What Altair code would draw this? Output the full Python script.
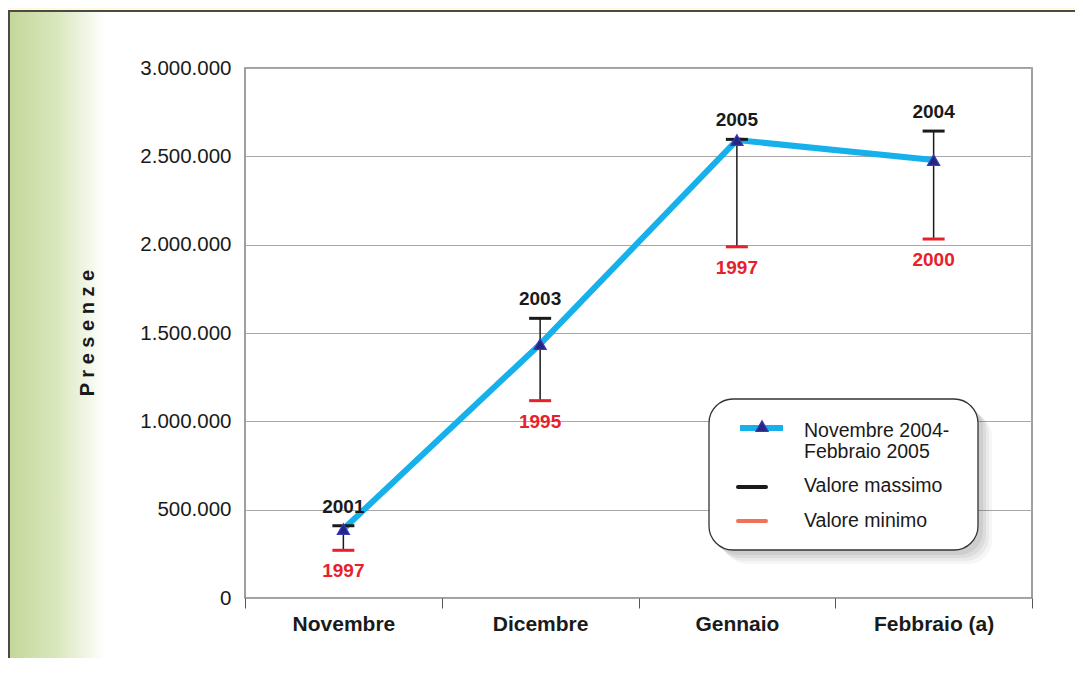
import altair as alt
import pandas as pd

# ---- data ----
mesi = ["Novembre", "Dicembre", "Gennaio", "Febbraio (a)"]
presenze = [390000, 1437000, 2592000, 2479000]
massimo = [409000, 1583000, 2596000, 2643000]
minimo = [270000, 1117000, 1988000, 2032000]
anno_max = ["2001", "2003", "2005", "2004"]
anno_min = ["1997", "1995", "1997", "2000"]
y_ticks = [0, 500000, 1000000, 1500000, 2000000, 2500000, 3000000]

df = pd.DataFrame({
    "mese": mesi,
    "presenze": presenze,
    "massimo": massimo,
    "minimo": minimo,
    "anno_max": anno_max,
    "anno_min": anno_min,
})
one = pd.DataFrame({"k": [0]})

FONT = "Liberation Sans, Arial, Helvetica, sans-serif"
W, H = 787, 530
PL, PT, PR, PB = 237, 60, 43, 60
CYAN = "#16B1EA"
NAVY = "#262680"
RED = "#E8202A"

xsc = alt.Scale(type="band", paddingInner=0, paddingOuter=0, domain=mesi)
ysc = alt.Scale(domain=[0, 3000000], nice=False, zero=True)

x_axis = alt.Axis(
    title=None, labelAngle=0, labelFont=FONT, labelFontSize=21,
    labelFontWeight="bold", labelColor="#1a1a1a", tickBand="extent",
    tickSize=10, tickColor="#555555", tickWidth=1, domain=False,
    labelPadding=16, labelBaseline="middle", grid=False,
)
y_axis = alt.Axis(
    title=None, values=y_ticks, labelFont=FONT, labelFontSize=20.5,
    labelColor="#1a1a1a", ticks=False, domain=False, labelPadding=14,
    gridColor="#a8a8a8", gridWidth=1,
    labelExpr="replace(replace(format(datum.value, ','), ',', '.'), ',', '.')",
)

X = alt.X("mese:N", scale=xsc, sort=mesi, axis=x_axis)


def Y(field):
    return alt.Y(field, scale=ysc, axis=y_axis)


base = alt.Chart(df)

# ---- decorations (page frame) ----
gradient = alt.Chart(one).mark_rect(
    color=alt.LinearGradient(
        gradient="linear", x1=0, x2=1, y1=0, y2=0,
        stops=[alt.GradientStop(color="#C3D799", offset=0),
               alt.GradientStop(color="#D9E7BD", offset=0.5),
               alt.GradientStop(color="#FFFFFF", offset=1)])
).encode(x=alt.value(-236), x2=alt.value(-140), y=alt.value(-57), y2=alt.value(H + PB))
frame_left = alt.Chart(one).mark_rule(color="#4a4a4a", strokeWidth=2).encode(
    x=alt.value(-236), y=alt.value(-58), y2=alt.value(H + PB))
frame_top = alt.Chart(one).mark_rule(color="#4a4a4a", strokeWidth=2).encode(
    x=alt.value(-237), x2=alt.value(W + PR), y=alt.value(-57))
top_strip = alt.Chart(one).mark_rect(color="#FFFBD8").encode(
    x=alt.value(-237), x2=alt.value(W + PR), y=alt.value(-60), y2=alt.value(-58))
ytitle = alt.Chart(one).mark_text(
    text="P r e s e n z e", font=FONT, fontSize=20, fontWeight="bold",
    color="#1a1a1a", angle=270, align="center", baseline="middle"
).encode(x=alt.value(-157), y=alt.value(265))

# ---- data layers ----
line = base.mark_line(color=CYAN, strokeWidth=6).encode(x=X, y=Y("presenze:Q"))
err = base.mark_rule(color="#1a1a1a", strokeWidth=1.5).encode(
    x=X, y=Y("minimo:Q"), y2="massimo:Q")
cap_max = base.mark_tick(color="#1a1a1a", size=22, thickness=3, opacity=1).encode(
    x=X, y=Y("massimo:Q"))
cap_min = base.mark_tick(color=RED, size=22, thickness=3, opacity=1).encode(
    x=X, y=Y("minimo:Q"))
pts = base.mark_point(shape="triangle-up", size=150, filled=True, fill=NAVY,
                      stroke="#3a3ab8", strokeWidth=1.2, opacity=1).encode(
    x=X, y=Y("presenze:Q"))
lab_max = base.mark_text(font=FONT, fontSize=19, fontWeight="bold", color="#1a1a1a",
                         dy=-19, baseline="middle").encode(
    x=X, y=Y("massimo:Q"), text="anno_max:N")
lab_min = base.mark_text(font=FONT, fontSize=19, fontWeight="bold", color=RED,
                         dy=21, baseline="middle").encode(
    x=X, y=Y("minimo:Q"), text="anno_min:N")

# ---- legend (drawn box) ----
LX0, LX1, LY0, LY1 = 464, 733, 331, 482
shadows = [
    alt.Chart(one).mark_rect(color="#555555", opacity=op, cornerRadius=24).encode(
        x=alt.value(LX0 + d), x2=alt.value(LX1 + d), y=alt.value(LY0 + d), y2=alt.value(LY1 + d))
    for d, op in [(14, 0.05), (11, 0.07), (8, 0.09), (5, 0.10)]
]
lbox = alt.Chart(one).mark_rect(fill="white", stroke="#333333", strokeWidth=1.3,
                                cornerRadius=24).encode(
    x=alt.value(LX0), x2=alt.value(LX1), y=alt.value(LY0), y2=alt.value(LY1))
leg_line = alt.Chart(one).mark_rule(color=CYAN, strokeWidth=6).encode(
    x=alt.value(495), x2=alt.value(538), y=alt.value(360))
leg_tri = alt.Chart(one).mark_point(shape="triangle-up", size=150, filled=True, fill=NAVY,
                                    stroke="#3a3ab8", strokeWidth=1.2, opacity=1).encode(
    x=alt.value(517), y=alt.value(358))
leg_max = alt.Chart(one).mark_rule(color="#1a1a1a", strokeWidth=4, strokeCap="round").encode(
    x=alt.value(493), x2=alt.value(521), y=alt.value(419))
leg_min = alt.Chart(one).mark_rule(color="#F07256", strokeWidth=4, strokeCap="round").encode(
    x=alt.value(493), x2=alt.value(521), y=alt.value(453))


def ltxt(t, yy):
    return alt.Chart(one).mark_text(text=t, font=FONT, fontSize=19.5, color="#1a1a1a",
                                    align="left", baseline="middle").encode(
        x=alt.value(559), y=alt.value(yy))


legend_texts = [ltxt("Novembre 2004-", 363), ltxt("Febbraio 2005", 384),
                ltxt("Valore massimo", 418), ltxt("Valore minimo", 453)]

chart = alt.layer(
    gradient, frame_left, frame_top, top_strip, ytitle,
    line, err, cap_max, cap_min, pts, lab_max, lab_min,
    *shadows, lbox, leg_line, leg_tri, leg_max, leg_min, *legend_texts,
).resolve_scale(x="shared", y="shared").properties(
    width=W, height=H,
    autosize=alt.AutoSizeParams(type="none"),
    padding={"left": PL, "top": PT, "right": PR, "bottom": PB},
).configure(background="white").configure_view(stroke="#808080", strokeWidth=1.5)

chart.save("out.html", embed_options={"renderer": "svg", "actions": False})
